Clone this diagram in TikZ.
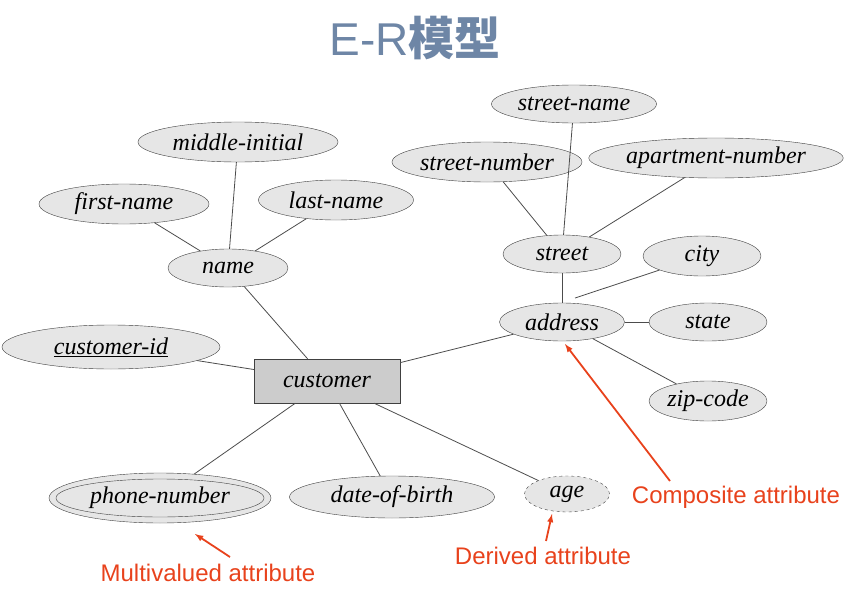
\documentclass[tikz,border=0pt]{standalone}
\usepackage{fontspec}
\setmainfont{Liberation Serif}
\newfontfamily\cjk{Noto Sans CJK SC}
\newfontfamily\lsans{Liberation Sans}
\usetikzlibrary{shapes.geometric}
\definecolor{fillg}{HTML}{E6E6E6}
\definecolor{redc}{HTML}{E8421C}
\definecolor{titc}{HTML}{6E86A6}
\tikzset{
 attr/.style={ellipse,draw=black!75,fill=fillg,inner sep=0pt,font=\fontsize{24}{26}\selectfont\itshape},
 conn/.style={draw=black!70,line width=0.8pt},
 note/.style={text=redc,font=\lsans\fontsize{24}{26}\selectfont},
 arr/.style={draw=redc,line width=1.8pt,-latex}
}
\begin{document}
\begin{tikzpicture}[x=1pt,y=-1pt]
\useasboundingbox (0,0) rectangle (849,589);
\node (title) at (415,38) {\fontsize{46}{50}\selectfont\color{titc}{\lsans E-R}{\cjk\bfseries 模型}};
\node[attr,minimum width=200,minimum height=40] (mi) at (238,142) {middle-initial};
\node[attr,minimum width=170,minimum height=40] (fn) at (124,204) {first-name};
\node[attr,minimum width=155,minimum height=40] (ln) at (336,200) {last-name};
\node[attr,minimum width=120,minimum height=38] (nm) at (228,268) {name};
\node[attr,minimum width=165,minimum height=38] (sn) at (574,104) {street-name};
\node[attr,minimum width=190,minimum height=40] (snum) at (487,162) {street-number};
\node[attr,minimum width=230,minimum height=40] (apt) at (716,158) {apartment-number};
\node[attr,minimum width=118,minimum height=38] (st) at (562,254) {street};
\node[attr,minimum width=118,minimum height=40] (city) at (702,256) {city};
\node[attr,minimum width=125,minimum height=38] (ad) at (562,322) {address};
\node[attr,minimum width=118,minimum height=38] (state) at (708,322) {state};
\node[attr,minimum width=118,minimum height=40] (zip) at (708,401) {zip-code};
\node[attr,minimum width=218,minimum height=44] (cid) at (111,347) {\underline{customer-id}};
\node[draw=black!75,fill=black!20,minimum width=146,minimum height=44,inner sep=0pt,font=\fontsize{24}{26}\selectfont\itshape] (cu) at (327,381) {customer};
\node[ellipse,draw=black!75,fill=fillg,minimum width=222,minimum height=50] (pho) at (160,498) {};
\node[attr,minimum width=208,minimum height=38] (ph) at (160,498) {phone-number};
\node[attr,minimum width=205,minimum height=42] (dob) at (392,497) {date-of-birth};
\node[attr,dashed,minimum width=85,minimum height=36] (age) at (567,494) {age};
\foreach \a/\b in {fn/nm,mi/nm,ln/nm,nm/cu,cid/cu,cu/ad,pho/cu,dob/cu,age/cu,snum/st,sn/st,apt/st,st/ad,state/ad,zip/ad}
  \draw[conn] (\a) -- (\b);
\coordinate (adtop) at (575,298);
\draw[conn] (city) -- (adtop);
\node[note] (ca) at (736,497) {Composite attribute};
\node[note] (da) at (543,556) {Derived attribute};
\node[note] (ma) at (208,573) {Multivalued attribute};
\coordinate (cat) at (565,344);
\coordinate (dat) at (552,514);
\coordinate (mat) at (195,534);
\draw[arr] (670,481) -- (cat);
\draw[arr] (546,541) -- (dat);
\draw[arr] (230,557) -- (mat);
\end{tikzpicture}
\end{document}
